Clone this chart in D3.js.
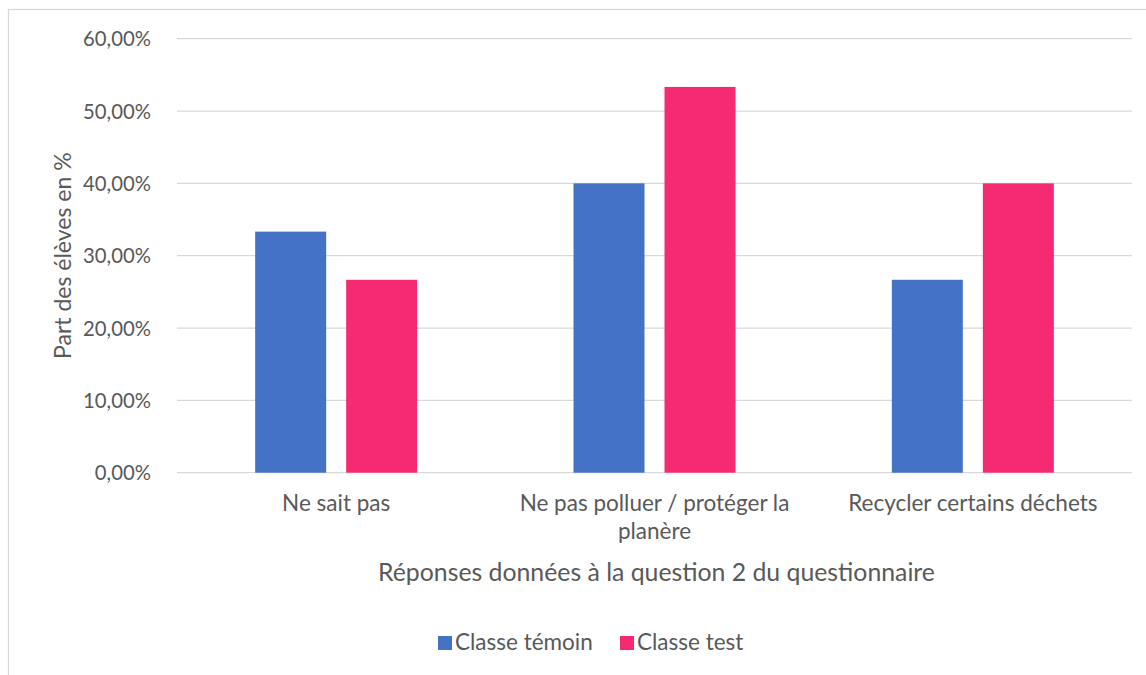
<!DOCTYPE html>
<html>
<head>
<meta charset="utf-8">
<script src="https://cdn.jsdelivr.net/npm/d3@7"></script>
<style>
  body { margin: 0; background: #fff; }
  svg text { font-family: Lato, "Open Sans", sans-serif; fill: #595959; }
</style>
</head>
<body>
<div id="chart"></div>
<script>
const frame_width = 1146;
const frame_height = 675;
const margins = {left: 177, right: 14, top: 38.7, bottom: 202.3};

// data
const categories = ["Ne sait pas", "Ne pas polluer / protéger la planère", "Recycler certains déchets"];
const series = ["Classe témoin", "Classe test"];
const temoin_values = [0.3333, 0.40, 0.2667];
const test_values = [0.2667, 0.5333, 0.40];
const y_ticks = [0, 0.1, 0.2, 0.3, 0.4, 0.5, 0.6];
const colors = ["#4472C4", "#F52A72"];

const svg = d3.select("#chart")
    .append("svg")
        .attr("width", frame_width)
        .attr("height", frame_height);

// outer chart border (cropped at right and bottom)
svg.append("rect")
    .attr("x", 8.5)
    .attr("y", 9.5)
    .attr("width", frame_width + 20)
    .attr("height", frame_height + 20)
    .attr("fill", "none")
    .attr("stroke", "#d9d9d9")
    .attr("stroke-width", 1.3);

const plot_w = frame_width - margins.left - margins.right;
const plot_h = frame_height - margins.top - margins.bottom;

const X_SCALE = d3.scaleBand()
    .domain(categories)
    .range([0, plot_w]);

// inner band: bars 71px, gap 20px
const step = 91;
const X_INNER = d3.scaleBand()
    .domain(series)
    .range([0, X_SCALE.bandwidth()])
    .paddingInner(20 / step)
    .paddingOuter((X_SCALE.bandwidth() / step - 2 + 20 / step) / 2);

const Y_SCALE = d3.scaleLinear()
    .domain([0, 0.6])
    .range([plot_h, 0]);

const g = svg.append("g")
    .attr("transform", "translate(" + margins.left + "," + margins.top + ")");

// gridlines
g.selectAll(".grid")
    .data(y_ticks)
    .enter()
    .append("line")
        .attr("x1", 0)
        .attr("x2", plot_w)
        .attr("y1", d => Y_SCALE(d))
        .attr("y2", d => Y_SCALE(d))
        .attr("stroke", "#d9d9d9")
        .attr("stroke-width", 1.3);

// y tick labels
const fmt = d => d3.format(".2f")(d * 100).replace(".", ",") + "%";
const yAxis = g.append("g")
    .attr("transform", "translate(-23,0)")
    .call(d3.axisLeft(Y_SCALE).tickValues(y_ticks).tickFormat(fmt).tickSize(0));
yAxis.select(".domain").remove();
yAxis.selectAll("text")
    .attr("font-size", "20.3px")
    .attr("dy", "0.35em")
    .style("font-family", "Lato, sans-serif")
    .attr("fill", "#595959");

// bars
const rows = categories.map((c, i) => ({cat: c, vals: [temoin_values[i], test_values[i]]}));
const groups = g.selectAll(".cat")
    .data(rows)
    .enter()
    .append("g")
        .attr("transform", d => "translate(" + X_SCALE(d.cat) + ",0)");

groups.selectAll("rect")
    .data(d => d.vals.map((v, j) => ({s: series[j], v: v, j: j})))
    .enter()
    .append("rect")
        .attr("x", d => X_INNER(d.s))
        .attr("width", X_INNER.bandwidth())
        .attr("y", d => Y_SCALE(d.v))
        .attr("height", d => Y_SCALE(0) - Y_SCALE(d.v))
        .attr("fill", d => colors[d.j]);

// x axis labels, wrapped to the band width
const xAxis = g.append("g")
    .attr("transform", "translate(0," + plot_h + ")")
    .call(d3.axisBottom(X_SCALE).tickSize(0).tickPadding(0));
xAxis.select(".domain").remove();
xAxis.selectAll("text")
    .attr("font-size", "22.5px")
    .style("font-family", "Lato, sans-serif")
    .attr("fill", "#595959")
    .attr("y", 38)
    .attr("dy", 0)
    .call(wrap, X_SCALE.bandwidth() - 20);

function wrap(texts, width) {
    texts.each(function() {
        const text = d3.select(this);
        const words = text.text().split(/\s+/);
        const y = text.attr("y");
        let line = [];
        let lineNum = 0;
        let tspan = text.text(null).append("tspan").attr("x", 0).attr("y", y);
        words.forEach(w => {
            line.push(w);
            tspan.text(line.join(" "));
            if (tspan.node().getComputedTextLength() > width && line.length > 1) {
                line.pop();
                tspan.text(line.join(" "));
                line = [w];
                lineNum++;
                tspan = text.append("tspan").attr("x", 0).attr("y", y)
                    .attr("dy", (lineNum * 28) + "px").text(w);
            }
        });
    });
}

// axis titles
svg.append("text")
    .attr("x", 656.5)
    .attr("y", 581)
    .attr("text-anchor", "middle")
    .attr("font-size", "24.8px")
    .text("Réponses données à la question 2 du questionnaire");

svg.append("text")
    .attr("transform", "translate(71," + (margins.top + plot_h / 2) + ") rotate(-90)")
    .attr("text-anchor", "middle")
    .attr("font-size", "23px")
    .text("Part des élèves en %");

// legend
const legendX = [438, 620];
const legend = svg.selectAll(".legend")
    .data(series)
    .enter()
    .append("g")
        .attr("transform", (d, i) => "translate(" + legendX[i] + ",636)");
legend.append("rect")
    .attr("width", 14)
    .attr("height", 14)
    .attr("fill", (d, i) => colors[i]);
legend.append("text")
    .attr("x", 17)
    .attr("y", 14)
    .attr("font-size", "22.5px")
    .text(d => d);
</script>
</body>
</html>
